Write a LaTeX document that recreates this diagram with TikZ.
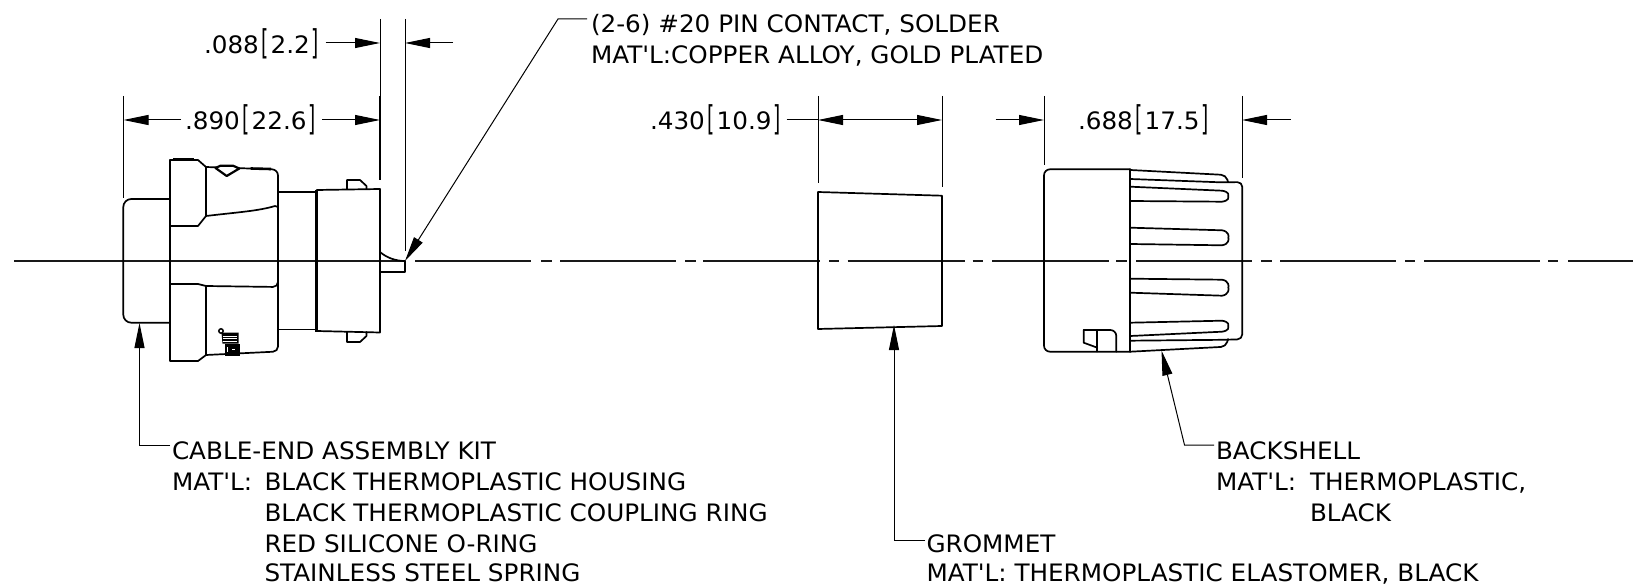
\documentclass[tikz,border=0pt]{standalone}
\usepackage{graphicx}
\usepackage{fontspec}
\setmainfont[FakeStretch=1.028,Ligatures=TeXOff]{DejaVu Sans}
\usetikzlibrary{arrows.meta}
\newcommand{\lbr}{\hspace{3pt}\raisebox{-1pt}{\scalebox{0.75}[1.42]{[}}\hspace{1.5pt}}
\newcommand{\rbr}{\hspace{1.5pt}\raisebox{-1pt}{\scalebox{0.75}[1.42]{]}}}
\tikzset{
  lbl/.style={anchor=base west,inner sep=0pt,outer sep=0pt,font=\fontsize{24}{24}\selectfont,text=black},
  outl/.style={line width=1.7pt,line join=round,line cap=round,black},
  thinl/.style={line width=1pt,black},
  tipped/.style={thinl,-{Triangle[length=25pt,width=10pt]}},
  centre/.style={line width=1.05pt,black!90},
}
\begin{document}
\begin{tikzpicture}[x=1pt,y=-1pt]
\useasboundingbox (0,0) rectangle (1633,585);
\fill[white] (0,0) rectangle (1633,585);
% centre line
\draw[centre] (14,261) -- (405,261);
\foreach \a/\b in {415/531,541/552,560/676,685/696,703/820,829/839,847.5/965,972.5/983,992/1108.5,1116/1127,1136/1252,1261/1272,1280/1396,1405/1415,1424/1540,1548/1558,1568/1633}
  \draw[centre] (\a,261) -- (\b,261);
% extension lines
\coordinate (a1) at (123.5,96); \coordinate (a2) at (123.5,198);
\coordinate (b1) at (380,19);   \coordinate (b2) at (380,180);
\coordinate (c1) at (405,19);   \coordinate (c2) at (405,251);
\coordinate (d1) at (818,96);   \coordinate (d2) at (818,183);
\coordinate (e1) at (942,96);   \coordinate (e2) at (942,187);
\coordinate (f1) at (1044,96);  \coordinate (f2) at (1044,165);
\coordinate (g1) at (1242,96);  \coordinate (g2) at (1242,178);
\foreach \p in {a,b,c,d,e,f,g} \draw[thinl] (\p1) -- (\p2);
\draw[line width=1.4pt] (380,96) -- (b2);
% dimension arrows
\coordinate (h1) at (325.5,43); \coordinate (h2) at (380,43);
\coordinate (h3) at (453,43);   \coordinate (h4) at (405,43);
\coordinate (i1) at (181,120);  \coordinate (i2) at (123.5,120);
\coordinate (i3) at (322,120);  \coordinate (i4) at (380,120);
\coordinate (j1) at (786.5,120);\coordinate (j2) at (818,120);
\coordinate (j3) at (942,120);
\coordinate (k1) at (995.5,120);\coordinate (k2) at (1044,120);
\coordinate (k3) at (1290.5,120);\coordinate (k4) at (1242,120);
\draw[tipped] (h1) -- (h2);
\draw[tipped] (h3) -- (h4);
\draw[tipped] (i1) -- (i2);
\draw[tipped] (i3) -- (i4);
\draw[thinl] (j1) -- (j2);
\draw[thinl,{Triangle[length=25pt,width=10pt]}-{Triangle[length=25pt,width=10pt]}] (j2) -- (j3);
\draw[tipped] (k1) -- (k2);
\draw[tipped] (k3) -- (k4);
% dimension labels
\node[lbl] (t088) at (204,54) {.088\lbr 2.2\rbr};
\node[lbl] (t890) at (185,130) {.890\lbr 22.6\rbr};
\node[lbl] (t430) at (650,130) {.430\lbr 10.9\rbr};
\node[lbl] (t688) at (1078,130) {.688\lbr 17.5\rbr};
% notes
\node[lbl] (pin1) at (591,33) {(2-6) \#20 PIN CONTACT, SOLDER};
\node[lbl] (pin2) at (591,64) {MAT'L:COPPER ALLOY, GOLD PLATED};
\node[lbl] (kit1) at (172,459) {CABLE-END ASSEMBLY KIT};
\node[lbl] (kit2) at (172,490) {MAT'L:};
\node[lbl] (kit2b) at (264.5,490) {BLACK THERMOPLASTIC HOUSING};
\node[lbl] (kit3) at (264.5,521.5) {BLACK THERMOPLASTIC COUPLING RING};
\node[lbl] (kit4) at (264.5,552) {RED SILICONE O-RING};
\node[lbl] (kit5) at (264.5,581) {STAINLESS STEEL SPRING};
\node[lbl] (gro1) at (926.5,552) {GROMMET};
\node[lbl] (gro2) at (926.5,581) {MAT'L: THERMOPLASTIC ELASTOMER, BLACK};
\node[lbl] (bac1) at (1216,459) {BACKSHELL};
\node[lbl] (bac2) at (1216,490) {MAT'L:};
\node[lbl] (bac2b) at (1310,490) {THERMOPLASTIC,};
\node[lbl] (bac3) at (1310,521.5) {BLACK};
% leaders
\coordinate (pinE) at (587,19); \coordinate (pinK) at (558,19); \coordinate (pinT) at (405,261);
\coordinate (kitT) at (139.5,323); \coordinate (kitK) at (139.5,445); \coordinate (kitE) at (170,445);
\coordinate (groT) at (894,325); \coordinate (groK) at (894,540); \coordinate (groE) at (925,540);
\coordinate (bacT) at (1161.5,350.5); \coordinate (bacK) at (1184.5,445); \coordinate (bacE) at (1214,445);
\foreach \n in {pin,kit,gro,bac} \draw[tipped] (\n E) -- (\n K) -- (\n T);
% connector body
\draw[outl,rounded corners=8pt] (170,199) -- (123.3,199) -- (123.3,322.7) -- (170,322.7);
\draw[outl] (170,160) -- (198,160) -- (206,167) -- (206,216) -- (198,226) -- (170,226);
\draw[outl] (170,160) -- (170,361) -- (198,361) -- (206,355);
\draw[outl] (170,284) -- (198,284) -- (206,286);
\draw[outl] (206,286) -- (206,355);
\draw[line width=2.6pt] (173,159.3) -- (194,159.3);
\draw[outl,rounded corners=6pt] (206,167) -- (278,169.5) -- (278,346.5);
\draw[outl,rounded corners=5pt] (206,286) -- (278,287) -- (278,270);
\draw[outl,rounded corners=5pt] (206,355) -- (278,351.5) -- (278,335);
\draw[outl] (206,216) .. controls (240,212) and (258,211) .. (275,206) -- (278,207);
\draw[outl,fill=white,line width=2.2pt] (215.5,168) -- (220.5,165.7) -- (233,165.7) -- (239.3,168.5) -- (226.7,176) -- cycle;
\draw[line width=2.6pt] (250.7,168.5) -- (271,169);
\draw[outl] (278,192) -- (315,192);
\draw[outl] (278,329.5) -- (315,329.5);
\draw[line width=2.8pt] (316.8,190) -- (316.8,331.5);
\draw[outl] (316.8,190) -- (380,189) -- (380,332.5) -- (316.8,331);
\draw[outl] (347,189) -- (347,180) -- (360,180) -- (366.5,186) -- (366.5,189);
\draw[outl] (347,332) -- (347,342) -- (360,342) -- (366.5,336) -- (366.5,332);
\draw[outl] (380,272) -- (405,272) -- (405,261);
\draw[outl] (380,252) .. controls (387,258) and (396,261) .. (405,261);
% spring
\draw[line width=1.5pt] (221,331) circle (2.2);
\fill[black] (221.5,332.7) -- (238.5,332.7) -- (238.5,343.5) -- (222.5,343.5) -- cycle;
\foreach \yy in {336,338.5,341} \draw[white,line width=0.7pt] (223,\yy) -- (237,\yy);
\fill[black] (225,344) rectangle (239.5,356);
\fill[white] (226.5,346.5) rectangle (228,351.5);
\fill[white] (232,349) rectangle (235,350.3);
% grommet
\coordinate (gr1) at (818,192); \coordinate (gr2) at (942,195.7);
\coordinate (gr3) at (942,326);  \coordinate (gr4) at (818,329);
\draw[outl] (gr1) -- (gr2) -- (gr3) -- (gr4) -- cycle;
% backshell
\draw[outl,rounded corners=6pt] (1130.3,169.3) -- (1044,169.3) -- (1044,351.7) -- (1130.3,351.7);
\draw[outl] (1130.3,169.3) -- (1130.3,351.7);
\draw[outl,rounded corners=5pt] (1130.3,170) -- (1226,175) -- (1228,182);
\draw[outl,rounded corners=5pt] (1130.3,179) -- (1223,182.4) -- (1242.3,182) -- (1242.3,339.3) -- (1223,339.8) -- (1130.3,340.7);
\draw[outl,rounded corners=5pt] (1130.3,351.7) -- (1226,346.7) -- (1228,339);
\foreach \ta/\tb/\ba/\bb in {186.7/190.7/201/201.7, 227.7/230.3/244/245.3, 278.7/279.7/292.7/295.7, 322.7/320.7/336/331.7}{
  \pgfmathsetmacro{\mid}{(\tb+\bb)/2}
  \draw[outl] (1130.3,\ta) -- (1222,\tb) .. controls (1229,\tb+1) and (1229,\mid-1) .. (1228.3,\mid) .. controls (1229,\mid+1) and (1229,\bb-1) .. (1222,\bb) -- (1130.3,\ba);
}
\draw[outl] (1083.7,330) -- (1097.3,330);
\draw[outl,rounded corners=6pt] (1097.3,330) -- (1116.3,330) -- (1116.3,351.7);
\draw[outl] (1083.7,330) -- (1083.7,342.7) -- (1097.3,347.7);
\draw[outl] (1097.3,330) -- (1097.3,351.5);
\end{tikzpicture}
\end{document}
